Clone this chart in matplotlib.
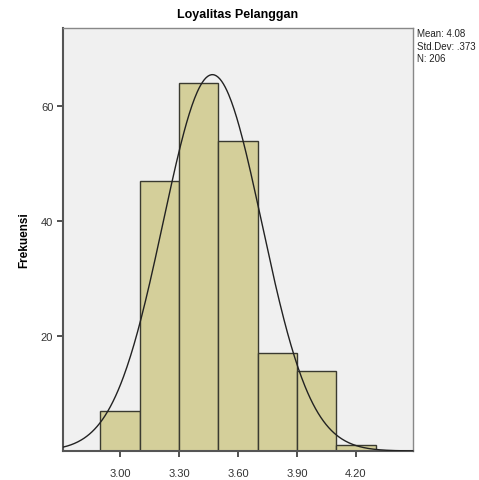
import numpy as np
import matplotlib
matplotlib.use("Agg")
import matplotlib.pyplot as plt

plt.rcParams['font.family'] = ['Liberation Sans', 'DejaVu Sans']

# histogram data
bin_edges = [2.9, 3.1, 3.3, 3.5, 3.7, 3.9, 4.1, 4.3]
counts = [7, 47, 64, 54, 17, 14, 1]
x_ticks = [3.00, 3.30, 3.60, 3.90, 4.20]
x_labels = ["3.00", "3.30", "3.60", "3.90", "4.20"]
y_ticks = [20, 40, 60]

# normal curve as drawn (centre / spread)
curve_mu = 3.47
curve_sigma = 0.251
n_total = 206
stats_text = "Mean: 4.08\nStd.Dev: .373\nN: 206"

fig = plt.figure(figsize=(4.79, 4.81), dpi=100)
ax = fig.add_axes([0.1315, 0.0603, 0.7305, 0.8794])
ax.set_facecolor('#f0f0f0')

lefts = bin_edges[:-1]
widths = np.diff(bin_edges)
ax.bar(lefts, counts, width=widths, align='edge', color='#d4cf9a',
       edgecolor='#3a3a30', linewidth=1.0, zorder=2)

xs = np.linspace(2.71, 4.49, 400)
bw = widths[0]
ys = n_total * bw / (curve_sigma * np.sqrt(2 * np.pi)) * np.exp(-0.5 * ((xs - curve_mu) / curve_sigma) ** 2)
ax.plot(xs, ys, color='#222222', linewidth=1.0, zorder=3)

ax.set_xlim(2.71, 4.49)
ax.set_ylim(0, 73.6)
ax.set_xticks(x_ticks)
ax.set_xticklabels(x_labels)
ax.set_yticks(y_ticks)
ax.tick_params(axis='both', direction='out', length=4, width=1.2,
               colors='#333333', labelsize=8, pad=8)
ax.tick_params(axis='y', pad=3)

for side in ['top', 'right']:
    ax.spines[side].set_color('#888888')
    ax.spines[side].set_linewidth(1.0)
for side in ['left', 'bottom']:
    ax.spines[side].set_color('#555555')
    ax.spines[side].set_linewidth(1.5)

ax.set_title("Loyalitas Pelanggan", fontsize=9, fontweight='bold', pad=8)
ax.set_ylabel("Frekuensi", fontsize=8.5, fontweight='bold', labelpad=8)

fig.text(0.871, 0.939, stats_text, fontsize=7, va='top', ha='left',
         linespacing=1.3, color='#222222')

fig.savefig("out.png", dpi=100)
